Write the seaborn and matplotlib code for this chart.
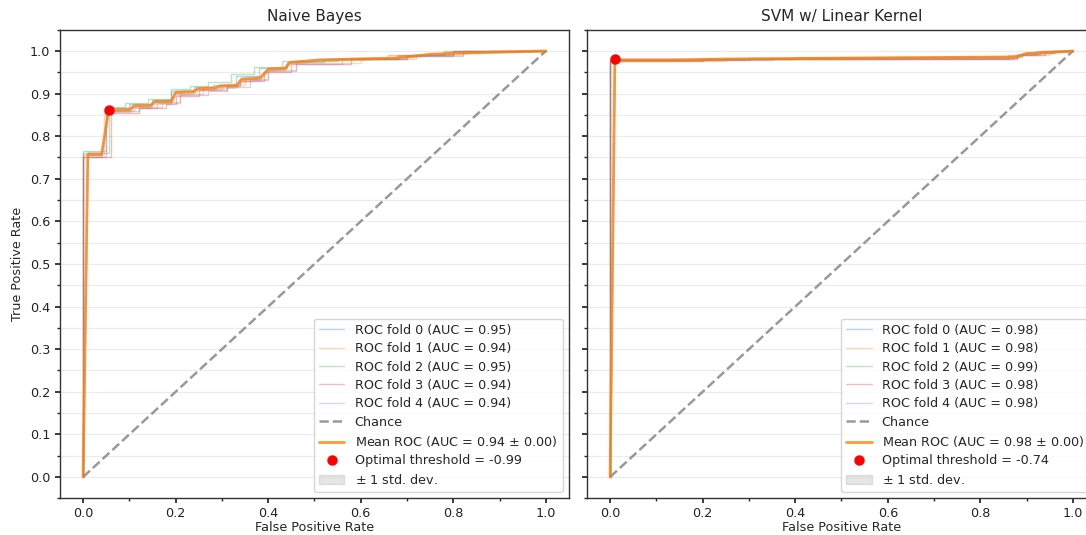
import numpy as np
import matplotlib
matplotlib.use("Agg")
import matplotlib.pyplot as plt
import seaborn as sns
from matplotlib.ticker import MultipleLocator

# ---------------- data ----------------
titles = ["Naive Bayes", "SVM w/ Linear Kernel"]

# Naive Bayes folds (corner points of ROC step curves)
nb_f0_fpr = [0, 0, 0.05, 0.05, 0.10, 0.10, 0.15, 0.15, 0.19, 0.19, 0.24, 0.24, 0.28, 0.28, 0.33, 0.33, 0.38, 0.38, 0.44, 0.44, 0.52, 0.52, 0.70, 0.70, 0.80, 0.80, 1.0]
nb_f0_tpr = [0, 0.765, 0.765, 0.866, 0.866, 0.876, 0.876, 0.886, 0.886, 0.906, 0.906, 0.916, 0.916, 0.921, 0.921, 0.941, 0.941, 0.961, 0.961, 0.975, 0.975, 0.980, 0.980, 0.988, 0.988, 1.0, 1.0]
nb_f1_fpr = [0, 0, 0.045, 0.045, 0.11, 0.11, 0.17, 0.17, 0.21, 0.21, 0.26, 0.26, 0.30, 0.30, 0.35, 0.35, 0.40, 0.40, 0.46, 0.46, 0.60, 0.60, 0.72, 0.72, 0.82, 0.82, 1.0]
nb_f1_tpr = [0, 0.755, 0.755, 0.858, 0.858, 0.868, 0.868, 0.880, 0.880, 0.900, 0.900, 0.910, 0.910, 0.920, 0.920, 0.935, 0.935, 0.955, 0.955, 0.972, 0.972, 0.980, 0.980, 0.990, 0.990, 1.0, 1.0]
nb_f2_fpr = [0, 0, 0.055, 0.055, 0.09, 0.09, 0.14, 0.14, 0.19, 0.19, 0.23, 0.23, 0.27, 0.27, 0.32, 0.32, 0.37, 0.37, 0.43, 0.43, 0.55, 0.55, 0.68, 0.68, 0.78, 0.78, 1.0]
nb_f2_tpr = [0, 0.760, 0.760, 0.868, 0.868, 0.878, 0.878, 0.888, 0.888, 0.910, 0.910, 0.918, 0.918, 0.928, 0.928, 0.945, 0.945, 0.962, 0.962, 0.976, 0.976, 0.982, 0.982, 0.990, 0.990, 1.0, 1.0]
nb_f3_fpr = [0, 0, 0.06, 0.06, 0.12, 0.12, 0.18, 0.18, 0.20, 0.20, 0.25, 0.25, 0.31, 0.31, 0.34, 0.34, 0.39, 0.39, 0.45, 0.45, 0.58, 0.58, 0.66, 0.66, 0.80, 0.80, 1.0]
nb_f3_tpr = [0, 0.750, 0.750, 0.855, 0.855, 0.865, 0.865, 0.875, 0.875, 0.895, 0.895, 0.908, 0.908, 0.918, 0.918, 0.930, 0.930, 0.950, 0.950, 0.970, 0.970, 0.983, 0.983, 0.990, 0.990, 1.0, 1.0]
nb_f4_fpr = [0, 0, 0.05, 0.05, 0.12, 0.12, 0.16, 0.16, 0.21, 0.21, 0.27, 0.27, 0.31, 0.31, 0.36, 0.36, 0.40, 0.40, 0.46, 0.46, 0.56, 0.56, 0.70, 0.70, 0.82, 0.82, 1.0]
nb_f4_tpr = [0, 0.752, 0.752, 0.858, 0.858, 0.866, 0.866, 0.878, 0.878, 0.896, 0.896, 0.906, 0.906, 0.915, 0.915, 0.932, 0.932, 0.952, 0.952, 0.970, 0.970, 0.980, 0.980, 0.988, 0.988, 1.0, 1.0]

# Naive Bayes mean ROC
nb_mean_fpr = [0, 0.0101, 0.040, 0.055, 0.100, 0.110, 0.145, 0.155, 0.190, 0.200, 0.238, 0.248, 0.285, 0.295, 0.332, 0.342, 0.382, 0.400, 0.436, 0.447, 0.512, 0.670, 0.750, 0.807, 1.0]
nb_mean_tpr = [0, 0.757, 0.757, 0.861, 0.862, 0.871, 0.871, 0.881, 0.881, 0.902, 0.904, 0.911, 0.913, 0.917, 0.919, 0.933, 0.936, 0.957, 0.959, 0.973, 0.979, 0.983, 0.992, 0.995, 1.0]
nb_std = [0, 0.006, 0.006, 0.005, 0.005, 0.005, 0.005, 0.005, 0.005, 0.006, 0.005, 0.004, 0.004, 0.005, 0.005, 0.006, 0.005, 0.004, 0.004, 0.003, 0.002, 0.002, 0.002, 0.002, 0.0]
nb_opt = (0.055, 0.861)
nb_aucs = [0.95, 0.94, 0.95, 0.94, 0.94]
nb_mean_auc, nb_std_auc, nb_thr = 0.94, 0.00, -0.99

# SVM folds
svm_f0_fpr = [0, 0, 0.30, 0.30, 0.88, 0.88, 0.93, 0.93, 1.0]
svm_f0_tpr = [0, 0.978, 0.978, 0.983, 0.983, 0.992, 0.992, 1.0, 1.0]
svm_f1_fpr = [0, 0, 0.25, 0.25, 0.87, 0.87, 0.95, 0.95, 1.0]
svm_f1_tpr = [0, 0.976, 0.976, 0.982, 0.982, 0.990, 0.990, 1.0, 1.0]
svm_f2_fpr = [0, 0, 0.40, 0.40, 0.89, 0.89, 0.96, 0.96, 1.0]
svm_f2_tpr = [0, 0.982, 0.982, 0.985, 0.985, 0.995, 0.995, 1.0, 1.0]
svm_f3_fpr = [0, 0, 0.20, 0.20, 0.88, 0.88, 0.94, 0.94, 1.0]
svm_f3_tpr = [0, 0.977, 0.977, 0.981, 0.981, 0.990, 0.990, 1.0, 1.0]
svm_f4_fpr = [0, 0, 0.35, 0.35, 0.86, 0.86, 0.92, 0.92, 1.0]
svm_f4_tpr = [0, 0.978, 0.978, 0.982, 0.982, 0.991, 0.991, 1.0, 1.0]

svm_mean_fpr = [0, 0.0101, 0.144, 0.244, 0.878, 0.900, 0.957, 1.0]
svm_mean_tpr = [0, 0.979, 0.979, 0.981, 0.986, 0.994, 0.997, 1.0]
svm_std = [0, 0.002, 0.002, 0.002, 0.002, 0.002, 0.002, 0.0]
svm_opt = (0.0101, 0.9805)
svm_aucs = [0.98, 0.98, 0.99, 0.98, 0.98]
svm_mean_auc, svm_std_auc, svm_thr = 0.98, 0.00, -0.74

chance = [0, 1]

# ---------------- style ----------------
sns.set_theme(style="white")
plt.rcParams["font.family"] = ["DejaVu Sans"]
plt.rcParams.update({
    "xtick.bottom": True, "ytick.left": True,
    "xtick.direction": "out", "ytick.direction": "out",
    "xtick.major.size": 3.5, "ytick.major.size": 3.5,
    "xtick.minor.size": 2, "ytick.minor.size": 2,
    "axes.edgecolor": "#333333",
})

FS = 9.2
fig = plt.figure(figsize=(10.86, 5.35), dpi=100)
ax1 = fig.add_axes([0.0552, 0.0686, 0.4687, 0.876])
ax2 = fig.add_axes([0.5405, 0.0686, 0.4687, 0.876], sharey=ax1)

panels = [
    (ax1, [(nb_f0_fpr, nb_f0_tpr), (nb_f1_fpr, nb_f1_tpr), (nb_f2_fpr, nb_f2_tpr),
           (nb_f3_fpr, nb_f3_tpr), (nb_f4_fpr, nb_f4_tpr)], nb_aucs,
     nb_mean_fpr, nb_mean_tpr, nb_std, nb_opt, nb_mean_auc, nb_std_auc, nb_thr),
    (ax2, [(svm_f0_fpr, svm_f0_tpr), (svm_f1_fpr, svm_f1_tpr), (svm_f2_fpr, svm_f2_tpr),
           (svm_f3_fpr, svm_f3_tpr), (svm_f4_fpr, svm_f4_tpr)], svm_aucs,
     svm_mean_fpr, svm_mean_tpr, svm_std, svm_opt, svm_mean_auc, svm_std_auc, svm_thr),
]

pal = sns.color_palette("tab10")
for i, (ax, folds, aucs, mf, mt, sd, opt, mauc, sauc, thr) in enumerate(panels):
    for k, (fx, fy) in enumerate(folds):
        sns.lineplot(x=fx, y=fy, ax=ax, sort=False, estimator=None, color=pal[k],
                     lw=1, alpha=0.3, label=f"ROC fold {k} (AUC = {aucs[k]:.2f})")
    ax.plot(chance, chance, linestyle="--", lw=1.8, color="gray", alpha=0.8, label="Chance")
    sns.lineplot(x=mf, y=mt, ax=ax, sort=False, estimator=None, color=pal[1], lw=2.0,
                 alpha=0.8, label=f"Mean ROC (AUC = {mauc:.2f} $\\pm$ {sauc:.2f})")
    ax.plot([opt[0]], [opt[1]], "o", color="red", ms=6.5, label=f"Optimal threshold = {thr:.2f}", zorder=5)
    mt_a, sd_a = np.array(mt), np.array(sd)
    ax.fill_between(mf, np.minimum(mt_a + sd_a, 1), np.maximum(mt_a - sd_a, 0),
                    color="grey", alpha=0.2, label=r"$\pm$ 1 std. dev.")
    ax.set_xlim(-0.05, 1.05)
    ax.set_ylim(-0.05, 1.05)
    ax.xaxis.set_major_locator(MultipleLocator(0.2))
    ax.xaxis.set_minor_locator(MultipleLocator(0.1))
    ax.yaxis.set_major_locator(MultipleLocator(0.1))
    ax.yaxis.set_minor_locator(MultipleLocator(0.05))
    ax.yaxis.grid(True, which="both", color="#ebebeb", lw=0.8)
    ax.xaxis.grid(False)
    ax.set_axisbelow(True)
    ax.tick_params(labelsize=FS, colors="#222222")
    ax.tick_params(axis="x", pad=2.5)
    ax.set_xlabel("False Positive Rate", fontsize=FS, labelpad=1)
    ax.set_title(titles[i], fontsize=11)
    for s in ax.spines.values():
        s.set_color("#333333")
        s.set_linewidth(1.0)
    leg = ax.legend(loc="lower right", fontsize=FS, frameon=True, fancybox=True,
                    framealpha=0.8, edgecolor="#cccccc", labelspacing=0.42)

ax1.set_ylabel("True Positive Rate", fontsize=FS)
ax2.set_ylabel("")
ax2.tick_params(labelleft=False)

fig.savefig("out.png", dpi=100)
